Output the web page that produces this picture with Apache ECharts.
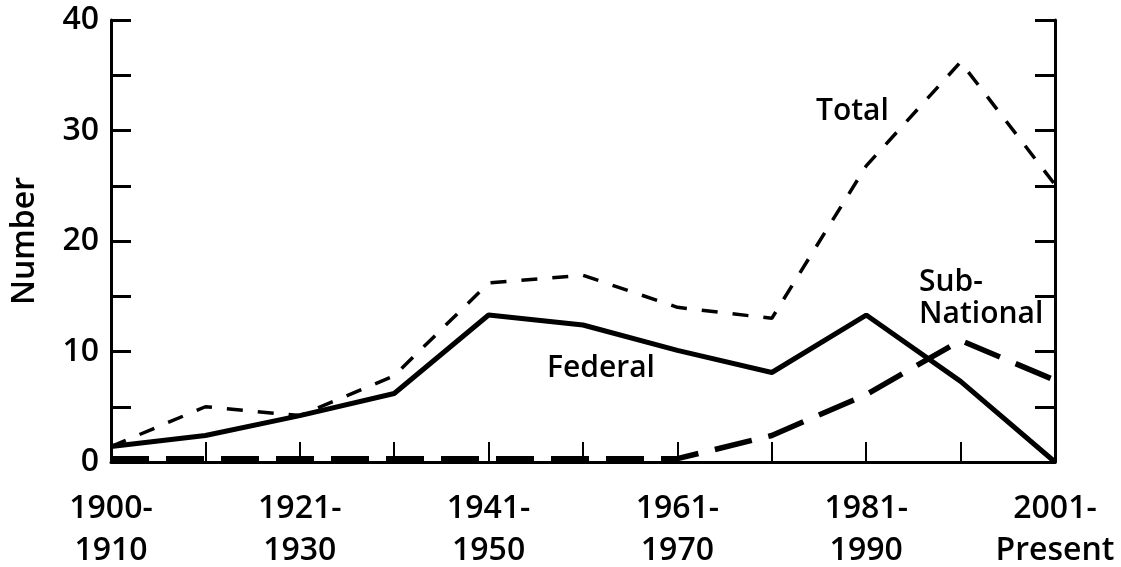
<!DOCTYPE html>
<html>
<head>
<meta charset="utf-8">
<script src="https://cdn.jsdelivr.net/npm/echarts@6/dist/echarts.min.js"></script>
<style>
  html, body { margin: 0; padding: 0; background: #fff; }
  #main { width: 1121px; height: 567px; }
</style>
</head>
<body>
<div id="main"></div>
<script>
// decades on the x axis (every other one is labelled)
const decades = ['1900-1910', '1911-1920', '1921-1930', '1931-1940', '1941-1950',
  '1951-1960', '1961-1970', '1971-1980', '1981-1990', '1991-2000', '2001-Present'];

const federal     = [1.4, 2.4, 4.2, 6.2, 13.3, 12.4, 10.1, 8.1, 13.3, 7.3, 0];
const subNational = [0.3, 0.3, 0.3, 0.3, 0.3, 0.3, 0.3, 2.4, 6.1, 11.0, 7.4];
const total       = [1.4, 5.0, 4.2, 7.8, 16.2, 16.9, 14.0, 13.0, 26.8, 36.2, 25.1];

const yTicks = { min: 0, max: 40, step: 5 };

const FONT = '"Open Sans", "DejaVu Sans", sans-serif';
const INK = '#000';
const W = 600;

const chart = echarts.init(document.getElementById('main'));

const yBase = {
  type: 'value',
  min: yTicks.min,
  max: yTicks.max,
  interval: yTicks.step,
  splitLine: { show: false },
  axisLine: { show: true, lineStyle: { color: INK, width: 3 } },
  axisTick: { show: true, inside: true, length: 20, lineStyle: { color: INK, width: 3 } }
};

chart.setOption({
  animation: false,
  backgroundColor: '#fff',
  grid: { left: 111, right: 66, top: 20, bottom: 105, outerBoundsMode: 'none' },
  xAxis: {
    type: 'category',
    data: decades,
    boundaryGap: false,
    axisLine: { lineStyle: { color: INK, width: 3 } },
    axisTick: { inside: true, length: 20, interval: 0, lineStyle: { color: INK, width: 2 } },
    axisLabel: {
      interval: 1,
      color: INK,
      fontFamily: FONT,
      fontSize: 32,
      fontWeight: W,
      lineHeight: 42,
      margin: 26,
      formatter: v => v.replace('-', '-\n')
    }
  },
  yAxis: [
    Object.assign({}, yBase, {
      position: 'left',
      name: 'Number',
      nameLocation: 'middle',
      nameGap: 70,
      nameTextStyle: { color: INK, fontFamily: FONT, fontSize: 32, fontWeight: W },
      axisLabel: {
        color: INK, fontFamily: FONT, fontSize: 32, fontWeight: W, margin: 12,
        formatter: v => (v % 10 === 0 ? String(v) : '')
      }
    }),
    Object.assign({}, yBase, {
      position: 'right',
      axisLabel: { show: false }
    })
  ],
  series: [
    {
      name: 'Total',
      type: 'line',
      data: total,
      symbol: 'none',
      clip: false,
      lineStyle: { color: INK, width: 3.5, type: [16, 15] }
    },
    {
      name: 'Sub-National',
      type: 'line',
      data: subNational,
      symbol: 'none',
      clip: false,
      lineStyle: { color: INK, width: 5.5, type: [38, 17] }
    },
    {
      name: 'Federal',
      type: 'line',
      data: federal,
      symbol: 'none',
      clip: false,
      lineStyle: { color: INK, width: 5 }
    }
  ],
  graphic: [
    { type: 'text', left: 816, top: 96, style: { text: 'Total', fill: INK, font: W + ' 30px ' + FONT } },
    { type: 'text', left: 547, top: 353, style: { text: 'Federal', fill: INK, font: W + ' 30px ' + FONT } },
    { type: 'text', left: 919, top: 266, style: { text: 'Sub-\nNational', fill: INK, font: W + ' 30px ' + FONT, lineHeight: 32 } }
  ]
});
</script>
</body>
</html>
